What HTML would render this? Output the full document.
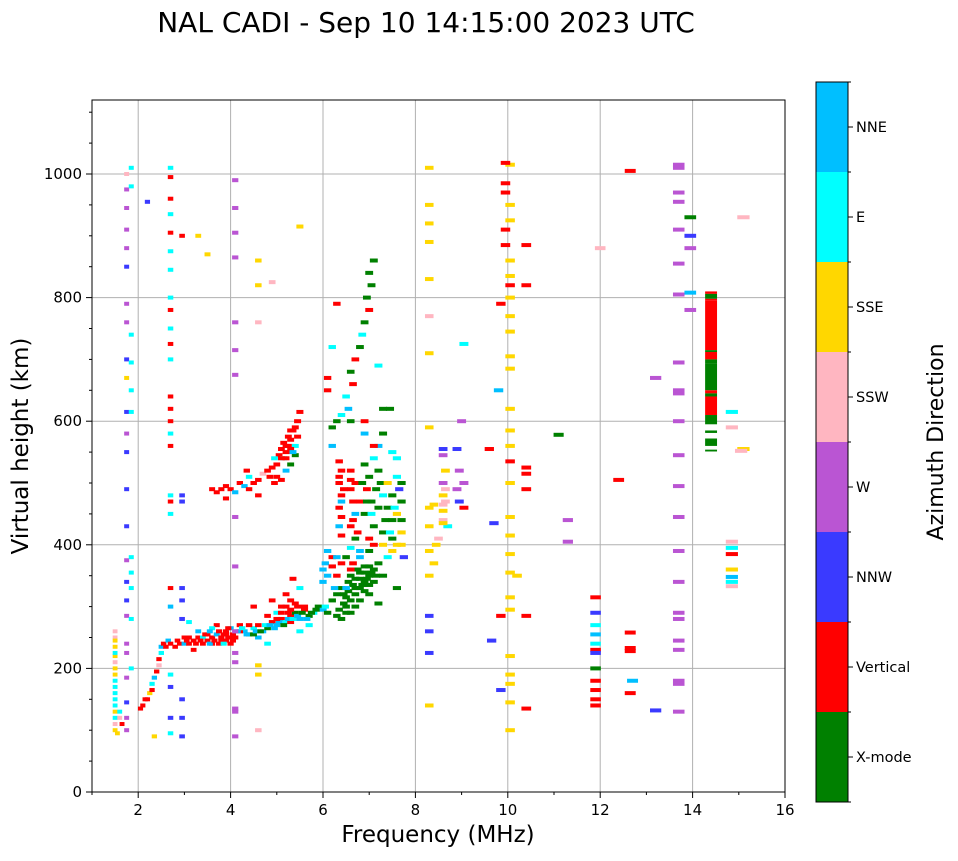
<!DOCTYPE html>
<html><head><meta charset="utf-8"><style>
body{margin:0;background:#fff;font-family:"DejaVu Sans","Liberation Sans",sans-serif}
svg text{font-family:"DejaVu Sans","Liberation Sans",sans-serif}
</style></head><body>
<svg id="chart" width="958" height="857" xmlns="http://www.w3.org/2000/svg">
<text x="426" y="32" font-size="28" text-anchor="middle">NAL CADI - Sep 10 14:15:00 2023 UTC</text>
<g id="grid"></g>
<g id="marks"></g>
<rect x="92" y="100" width="693" height="692" fill="none" stroke="#000" stroke-width="1"/>
<g id="axes"></g>
<text x="438" y="842" font-size="23" text-anchor="middle">Frequency (MHz)</text>
<text transform="translate(28,446) rotate(-90)" font-size="23" text-anchor="middle">Virtual height (km)</text>
<g id="cbar"></g>
<text transform="translate(943,442) rotate(-90)" font-size="22" text-anchor="middle">Azimuth Direction</text>
</svg>
<script>
const dirNames=["X-mode","Vertical","NNW","W","SSW","SSE","E","NNE"];
const dirColors=["#008000","#ff0000","#3a3aff","#ba55d3","#ffb6c1","#ffd700","#00ffff","#00bfff"];
const xTicks=[2,4,6,8,10,12,14,16];
const yTicks=[0,200,400,600,800,1000];
// [freq MHz, height km, direction index]
const obs=[
[2.05,135,1],[2.1,140,1],[2.15,150,1],[2.2,150,1],[2.25,160,5],[2.3,165,1],[2.3,175,6],[2.35,185,7],[2.4,195,1],[2.45,205,4],[2.45,215,1],[2.5,225,6],[2.5,235,7],[2.55,240,1],[2.6,235,1],[2.65,245,7],[2.7,240,1],[2.8,235,1],[2.85,245,1],[2.9,240,1],[3.0,240,7],[3.05,245,1],[3.1,250,1],[3.2,245,1],[3.3,250,1],[3.4,250,6],[3.5,255,1],[3.6,250,1],[3.7,255,7],[3.8,245,1],[3.85,255,1],[3.9,260,1],[3.95,250,1],[4.0,265,7],[4.05,255,1],[4.1,250,1],[3.7,270,1],[3.6,265,6],[3.4,240,1],[3.3,260,7],[3.2,230,1],[3.1,275,6],[4.2,270,1],[4.3,260,7],[4.4,255,0],[4.5,265,6],[4.6,270,1],[4.7,260,7],[4.8,265,0],[4.9,275,1],[5.0,270,7],[5.1,280,1],[5.2,275,6],[5.3,285,1],[5.4,290,0],[5.5,280,7],[5.6,295,1],[5.7,285,0],[5.8,290,6],[5.9,300,0],[6.0,295,7],[5.2,300,1],[5.3,295,1],[5.4,305,1],[5.0,290,6],[4.6,250,7],[4.8,240,6],[5.5,260,6],[5.7,270,6],[4.5,300,1],[4.9,310,1],[5.2,320,1],[5.35,345,1],[5.5,330,6],[3.9,245,1],[4.0,240,1],[3.6,240,1],[3.5,245,1],[4.2,260,1],[4.4,270,1],[5.1,290,1],[5.3,275,1],
[3.0,250,1],[3.1,240,1],[3.25,240,1],[3.35,245,1],[3.45,255,1],[3.55,240,7],[3.65,245,1],[3.75,240,1],[3.8,250,1],[3.9,255,1],[3.95,265,1],[4.0,250,1],[4.05,245,1],[3.85,240,6],[3.75,260,1],[3.55,260,7],[4.15,260,7],[4.25,265,6],[4.35,255,7],[4.5,255,0],[4.55,260,7],[4.65,260,0],[4.75,270,6],[4.85,270,7],[4.95,265,7],[5.05,275,7],[5.15,270,0],[5.25,280,7],[5.35,280,6],[5.45,285,7],[5.55,290,0],[5.65,280,7],[5.75,290,0],[5.85,295,0],[5.1,300,1],[5.25,290,1],[5.45,300,1],[5.6,300,1],[5.3,310,1],[5.0,280,1],[4.8,285,1],
[6.05,300,6],[6.1,290,0],[6.2,310,0],[6.3,320,0],[6.4,330,0],[6.5,315,0],[6.55,340,0],[6.6,350,0],[6.7,330,0],[6.75,360,0],[6.8,345,0],[6.9,355,0],[7.0,365,0],[7.1,340,0],[7.2,370,0],[7.3,350,0],[7.4,380,6],[7.5,390,5],[7.6,400,5],[7.7,420,5],[7.75,380,2],[6.3,350,1],[6.4,370,1],[6.6,360,1],[6.8,380,7],[7.0,390,0],[7.1,400,1],[7.3,420,0],[6.05,370,7],[6.0,360,7],[6.1,390,7],[6.2,380,1],[6.0,340,7],[6.5,380,0],[6.7,300,0],[6.6,290,0],[6.8,310,0],[7.0,320,0],[7.2,305,0],[6.9,325,0],[7.5,410,0],[7.7,400,5],[7.6,330,0],[6.4,280,0],[6.5,300,0],[6.5,290,0],[6.9,340,0],[7.0,350,0],[6.8,330,0],
[6.3,285,0],[6.35,295,0],[6.45,305,0],[6.45,320,0],[6.55,325,0],[6.65,335,0],[6.7,345,0],[6.85,335,0],[6.95,345,0],[7.05,355,0],[7.1,360,0],[6.6,310,0],[6.7,320,0],[6.8,355,0],[6.9,365,0],[7.0,335,0],[7.15,350,0],[6.5,330,7],[6.65,370,1],[6.25,330,7],[6.1,350,7],[6.2,365,1],[6.3,380,7],
[6.35,535,1],[6.4,520,1],[6.35,500,1],[6.4,480,1],[6.35,460,1],[6.4,445,1],[6.35,430,7],[6.4,415,1],[6.6,520,1],[6.7,500,1],[6.65,470,1],[6.7,450,7],[6.6,430,1],[6.7,410,0],[6.9,530,0],[7.0,510,0],[6.95,490,1],[7.05,470,0],[6.9,450,0],[7.1,430,0],[7.2,520,0],[7.25,500,0],[7.3,480,6],[7.1,540,6],[7.4,460,0],[7.5,440,0],[7.45,420,6],[7.6,540,6],[7.6,510,6],[7.65,490,2],[7.7,470,0],[7.6,450,5],[7.0,410,1],[6.8,390,7],[6.6,395,6],[7.3,400,5],[6.6,490,1],[6.8,470,1],
[6.35,510,1],[6.45,490,1],[6.4,470,7],[6.6,505,1],[6.65,440,1],[6.75,420,1],[6.85,500,0],[6.95,470,0],[7.05,450,6],[7.15,490,0],[7.2,460,0],[7.35,440,0],[7.5,480,0],[7.55,460,6],[7.4,500,5],[7.7,500,0],[7.7,440,0],
[6.2,590,0],[6.2,560,7],[6.3,600,0],[6.4,610,6],[6.5,640,6],[6.55,620,7],[6.6,680,0],[6.7,700,1],[6.65,660,1],[6.8,720,0],[6.85,740,6],[6.9,760,0],[7.0,780,1],[6.95,800,0],[7.05,820,0],[7.0,840,0],[7.1,860,0],[6.3,790,1],[7.2,690,6],[7.3,620,0],[7.3,580,0],[7.2,560,7],[6.6,600,0],[6.9,580,7],[7.1,560,1],[7.5,550,6],[6.1,670,1],[6.2,720,6],[6.1,650,1],[7.45,620,0],[6.9,600,1],
[3.6,490,1],[3.7,485,1],[3.8,490,1],[3.9,495,1],[4.0,490,1],[4.1,485,7],[4.2,500,1],[4.3,495,7],[4.4,510,6],[4.5,500,1],[4.6,505,1],[4.7,515,4],[4.8,520,1],[4.9,525,1],[5.0,530,1],[5.05,545,1],[5.1,555,1],[5.15,540,6],[5.2,560,1],[5.25,575,1],[5.3,570,1],[5.35,585,1],[5.4,560,6],[5.45,600,1],[5.5,615,1],[5.4,545,0],[5.2,520,7],[5.3,530,0],[5.0,510,1],[4.95,540,6],[5.1,505,1],[4.35,520,1],[3.9,475,1],[4.4,490,1],[4.6,480,1],[5.2,550,1],[5.3,555,1],
[5.1,540,1],[5.2,540,1],[5.25,560,1],[5.3,585,1],[5.4,590,1],[5.45,575,1],[5.15,565,1],[5.35,550,7],[4.85,510,1],[4.95,500,1],
[1.5,100,5],[1.5,110,4],[1.5,120,6],[1.5,130,5],[1.5,140,6],[1.5,160,6],[1.5,170,6],[1.5,180,6],[1.5,190,5],[1.5,200,5],[1.5,210,4],[1.5,220,5],[1.5,235,5],[1.5,250,4],[1.5,260,4],[1.6,120,4],[1.65,110,1],[1.6,130,6],[1.55,95,5],[1.5,150,6],[1.5,245,5],[1.5,225,6],
[1.75,1000,4],[1.75,975,3],[1.75,945,3],[1.75,910,3],[1.75,880,3],[1.75,850,2],[1.75,790,3],[1.75,760,3],[1.75,700,2],[1.75,670,5],[1.75,615,2],[1.75,580,3],[1.75,550,2],[1.75,490,2],[1.75,430,2],[1.75,375,3],[1.75,340,2],[1.75,310,2],[1.75,285,3],[1.75,240,3],[1.75,225,3],[1.75,185,3],[1.75,145,2],[1.75,120,3],[1.75,100,3],
[1.85,1010,6],[1.85,980,6],[1.85,740,6],[1.85,695,6],[1.85,650,6],[1.85,615,6],[1.85,380,6],[1.85,355,6],[1.85,330,6],[1.85,280,6],[1.85,200,6],
[2.7,1010,6],[2.7,995,1],[2.7,960,1],[2.7,935,6],[2.7,905,1],[2.7,875,6],[2.7,845,6],[2.7,800,6],[2.7,780,1],[2.7,750,6],[2.7,725,1],[2.7,700,6],[2.7,640,1],[2.7,620,1],[2.7,600,1],[2.7,580,6],[2.7,560,1],[2.7,480,6],[2.7,470,1],[2.7,450,6],[2.7,330,1],[2.7,300,7],[2.7,190,6],[2.7,170,2],[2.7,120,2],[2.7,95,6],
[2.95,900,1],[2.95,480,2],[2.95,470,2],[2.95,330,2],[2.95,310,2],[2.95,280,2],[2.95,150,2],[2.95,120,2],[2.95,90,2],
[4.1,990,3],[4.1,945,3],[4.1,905,3],[4.1,865,3],[4.1,760,3],[4.1,715,3],[4.1,675,3],[4.1,445,3],[4.1,365,3],[4.1,260,3],[4.1,225,3],[4.1,210,3],[4.1,135,3],[4.1,130,3],[4.1,90,3],
[3.3,900,5],[3.5,870,5],[4.6,860,5],[4.6,820,5],[5.5,915,5],[4.6,760,4],[4.9,825,4],[2.2,955,2],[2.35,90,5],[4.6,190,5],[4.6,205,5],[4.6,100,4],
[8.3,1010,5],[8.3,950,5],[8.3,920,5],[8.3,890,5],[8.3,830,5],[8.3,770,4],[8.3,710,5],[8.3,590,5],[8.3,460,5],[8.3,430,5],[8.3,390,5],[8.3,350,5],[8.3,285,2],[8.3,260,2],[8.3,225,2],[8.3,140,5],
[8.5,410,4],[8.6,440,4],[8.6,455,5],[8.65,470,4],[8.6,480,5],[8.65,490,4],[8.6,500,3],[8.65,520,5],[8.6,545,3],[8.6,555,2],[8.9,555,2],[8.95,520,3],[8.9,490,3],[8.95,470,2],[9.05,500,3],[9.05,460,1],[9.0,600,3],[9.05,725,6],[8.4,370,5],[8.4,465,5],[8.7,430,6],[8.45,400,5],[8.6,465,4],[8.6,435,5],
[10.05,1015,5],[9.95,1018,1],[9.95,985,1],[9.95,970,1],[10.05,950,5],[10.05,925,5],[9.95,910,1],[9.95,885,1],[10.05,860,5],[10.05,835,5],[10.05,820,1],[10.05,800,5],[9.85,790,1],[10.05,770,5],[10.05,745,5],[10.05,705,5],[10.05,685,5],[9.8,650,7],[10.05,620,5],[10.05,585,5],[10.05,560,5],[10.05,535,1],[10.05,500,5],[10.4,490,1],[10.05,445,5],[10.05,415,5],[10.05,385,5],[10.05,355,5],[10.2,350,5],[10.05,315,5],[10.05,295,5],[9.85,285,1],[10.4,285,1],[10.05,220,5],[10.05,190,5],[10.05,175,5],[9.85,165,2],[10.05,145,5],[10.4,135,1],[10.05,100,5],[10.4,525,1],[10.4,515,1],[10.4,885,1],[10.4,820,1],[9.6,555,1],[9.7,435,2],[9.65,245,2],
[11.3,440,3],[11.3,405,3],[11.1,578,0],[12.0,880,4],[12.65,1005,1],[12.4,505,1],
[11.9,315,1],[11.9,290,2],[11.9,270,6],[11.9,255,7],[11.9,240,6],[11.9,230,1],[11.9,225,2],[11.9,200,0],[11.9,180,1],[11.9,165,1],[11.9,150,1],[11.9,140,1],
[12.65,258,1],[12.65,228,1],[12.65,233,1],[12.7,180,7],[12.65,160,1],[13.2,132,2],[13.2,670,3],
[13.7,1015,3],[13.7,1010,3],[13.7,970,3],[13.7,955,3],[13.7,910,3],[13.7,855,3],[13.7,805,3],[13.7,695,3],[13.7,645,3],[13.7,600,3],[13.7,545,3],[13.7,495,3],[13.7,445,3],[13.7,390,3],[13.7,340,3],[13.7,290,3],[13.7,280,3],[13.7,245,3],[13.7,230,3],[13.7,180,3],[13.7,175,3],[13.7,130,3],[13.7,695,3],[13.7,650,3],
[13.95,930,0],[13.95,900,2],[13.95,880,3],[13.95,780,3],[13.95,808,7],
[14.85,615,6],[14.85,590,4],[15.1,555,5],[14.85,405,4],[14.85,395,6],[14.85,385,1],[14.85,360,5],[14.85,348,7],[14.85,340,6],[14.85,333,4],[15.1,930,4],[15.05,552,4]
];
// tall runs: [freq, lowHeight, highHeight, direction]
const runs=[
[14.4,806,810,1],[14.4,798,806,0],[14.4,795,798,1],[14.4,715,795,1],[14.4,712,715,0],[14.4,700,712,1],[14.4,694,700,0],[14.4,650,694,0],[14.4,645,650,1],[14.4,640,645,0],[14.4,610,640,1],[14.4,595,610,0],[14.4,581,585,0],[14.4,560,572,0],[14.4,551,554,0]
];
const NS="http://www.w3.org/2000/svg";
const X=f=>92+(f-1)*(693/15);
const Y=h=>792-h*0.618;
function mk(tag,attrs,parent){const e=document.createElementNS(NS,tag);for(const k in attrs)e.setAttribute(k,attrs[k]);parent.appendChild(e);return e;}
const grid=document.getElementById('grid'),axes=document.getElementById('axes'),marks=document.getElementById('marks'),cbar=document.getElementById('cbar');
xTicks.forEach(t=>{
  if(t<16){const g=mk('line',{x1:X(t),x2:X(t),y1:100,y2:792,stroke:'#b0b0b0','stroke-width':1},grid);
  
  }
  mk('line',{x1:X(t),x2:X(t),y1:792,y2:798,stroke:'#000'},axes);
  const tx=mk('text',{x:X(t),y:815,'font-size':15,'text-anchor':'middle'},axes);tx.textContent=t;
  
  
});
for(let m=1;m<16;m+=2){mk('line',{x1:X(m),x2:X(m),y1:792,y2:795,stroke:'#000'},axes);}
yTicks.forEach(t=>{
  if(t>0){const g=mk('line',{x1:92,x2:785,y1:Y(t),y2:Y(t),stroke:'#b0b0b0','stroke-width':1},grid);
  
  }
  mk('line',{x1:86,x2:92,y1:Y(t),y2:Y(t),stroke:'#000'},axes);
  const tx=mk('text',{x:82,y:Y(t)+5,'font-size':15,'text-anchor':'end'},axes);tx.textContent=t;
  
  
});
for(let m=50;m<1120;m+=50){if(m%200)mk('line',{x1:89,x2:92,y1:Y(m),y2:Y(m),stroke:'#000'},axes);}
const wpx=f=>4+f*0.55;
obs.forEach(p=>{
  const w=wpx(p[0]);
  const r=mk('rect',{x:X(p[0])-w/2,y:Y(p[1])-2,width:w,height:4,fill:dirColors[p[2]]},marks);
  
  
});
runs.forEach(p=>{
  const w=wpx(p[0]);
  const r=mk('rect',{x:X(p[0])-w/2,y:Y(p[2]),width:w,height:(p[2]-p[1])*0.618,fill:dirColors[p[3]]},marks);
  
  
});
const segH=720/8;
dirNames.forEach((n,i)=>{
  const y=802-(i+1)*segH;
  const r=mk('rect',{x:816,y:y,width:32,height:segH,fill:dirColors[i]},cbar);
  
  
  mk('line',{x1:848,x2:853,y1:y+segH/2,y2:y+segH/2,stroke:'#000'},cbar);
  const t=mk('text',{x:856,y:y+segH/2+5,'font-size':14.5},cbar);t.textContent=n;
  
  
});
for(let i=0;i<=8;i++){mk('line',{x1:848,x2:851,y1:802-i*segH,y2:802-i*segH,stroke:'#000'},cbar);}
mk('rect',{x:816,y:82,width:32,height:720,fill:'none',stroke:'#000'},cbar);
</script>
</body></html>
